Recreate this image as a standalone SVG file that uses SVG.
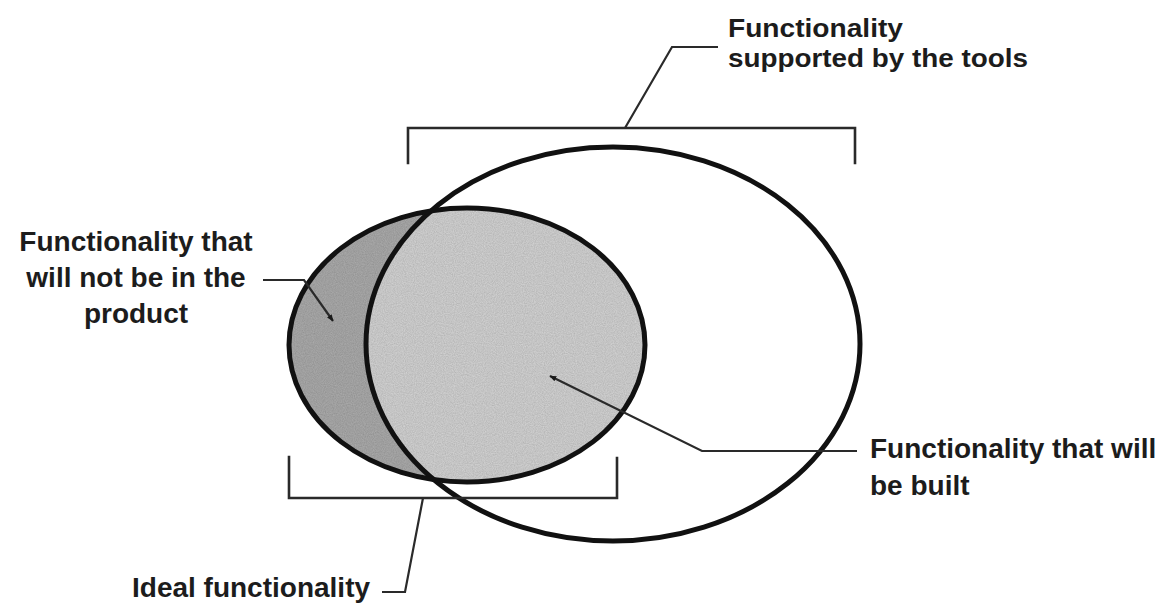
<svg xmlns="http://www.w3.org/2000/svg" width="1167" height="603" viewBox="0 0 1167 603">
  <style>
    .lbl { font-family: "Liberation Sans", Arial, sans-serif; font-size: 28px; font-weight: bold; fill: #1c1c1c; }
    .top { font-size: 26.5px; }
    .ell { fill: none; stroke: #111; stroke-width: 5; }
    .brk { fill: none; stroke: #2a2a2a; stroke-width: 2.6; stroke-linecap: square; }
    .ldr { fill: none; stroke: #2a2a2a; stroke-width: 2.2; }
  </style>
  <defs>
    <clipPath id="bigClip">
      <ellipse cx="613" cy="344" rx="247" ry="197"/>
    </clipPath>
    <marker id="arr" viewBox="0 0 10 10" refX="9" refY="5" markerWidth="7" markerHeight="7" orient="auto" markerUnits="userSpaceOnUse">
      <path d="M0,1 L10,5 L0,9 z" fill="#1a1a1a"/>
    </marker>
    <filter id="grain" x="0" y="0" width="100%" height="100%">
      <feTurbulence type="fractalNoise" baseFrequency="0.9" numOctaves="2" seed="3" result="n"/>
      <feColorMatrix in="n" type="matrix" values="0 0 0 0 0  0 0 0 0 0  0 0 0 0 0  0 0 0 0.35 0" result="a"/>
      <feComposite in="a" in2="SourceGraphic" operator="in" result="g"/>
      <feMerge><feMergeNode in="SourceGraphic"/><feMergeNode in="g"/></feMerge>
    </filter>
  </defs>
  <rect width="1167" height="603" fill="#ffffff"/>

  <g id="ideal-functionality">
    <ellipse cx="467" cy="345" rx="178" ry="137" fill="#adadad" filter="url(#grain)"/>
  </g>
  <g id="built-functionality">
    <ellipse cx="467" cy="345" rx="178" ry="137" fill="#d6d6d6" clip-path="url(#bigClip)" filter="url(#grain)"/>
  </g>
  <g id="tool-functionality">
    <ellipse class="ell" cx="613" cy="344" rx="247" ry="197"/>
  </g>
  <g id="ideal-outline">
    <ellipse class="ell" cx="467" cy="345" rx="178" ry="137"/>
  </g>

  <g id="connectors">
    <path class="brk" d="M408,163 L408,128 L855,128 L855,163"/>
    <path class="brk" d="M289,457 L289,498 L617,498 L617,458"/>
    <path class="ldr" d="M625,128 L672,47 L718,47"/>
    <path class="ldr" d="M423,498 L405,592 L382,592"/>
    <path class="ldr" d="M263,280 L304,280 L333,321" marker-end="url(#arr)"/>
    <path class="ldr" d="M857,451 L702,451 L550,376" marker-end="url(#arr)"/>
  </g>

  <g id="label-tools">
    <text class="lbl top" x="728" y="37" textLength="175" lengthAdjust="spacingAndGlyphs">Functionality</text>
    <text class="lbl top" x="728" y="67" textLength="300" lengthAdjust="spacingAndGlyphs">supported by the tools</text>
  </g>
  <g id="label-not-in-product">
    <text class="lbl" x="136" y="251" text-anchor="middle">Functionality that</text>
    <text class="lbl" x="136" y="287" text-anchor="middle">will not be in the</text>
    <text class="lbl" x="136" y="323" text-anchor="middle">product</text>
  </g>
  <g id="label-built">
    <text class="lbl" x="870" y="458">Functionality that will</text>
    <text class="lbl" x="870" y="495">be built</text>
  </g>
  <g id="label-ideal">
    <text class="lbl" x="132" y="597">Ideal functionality</text>
  </g>
</svg>
